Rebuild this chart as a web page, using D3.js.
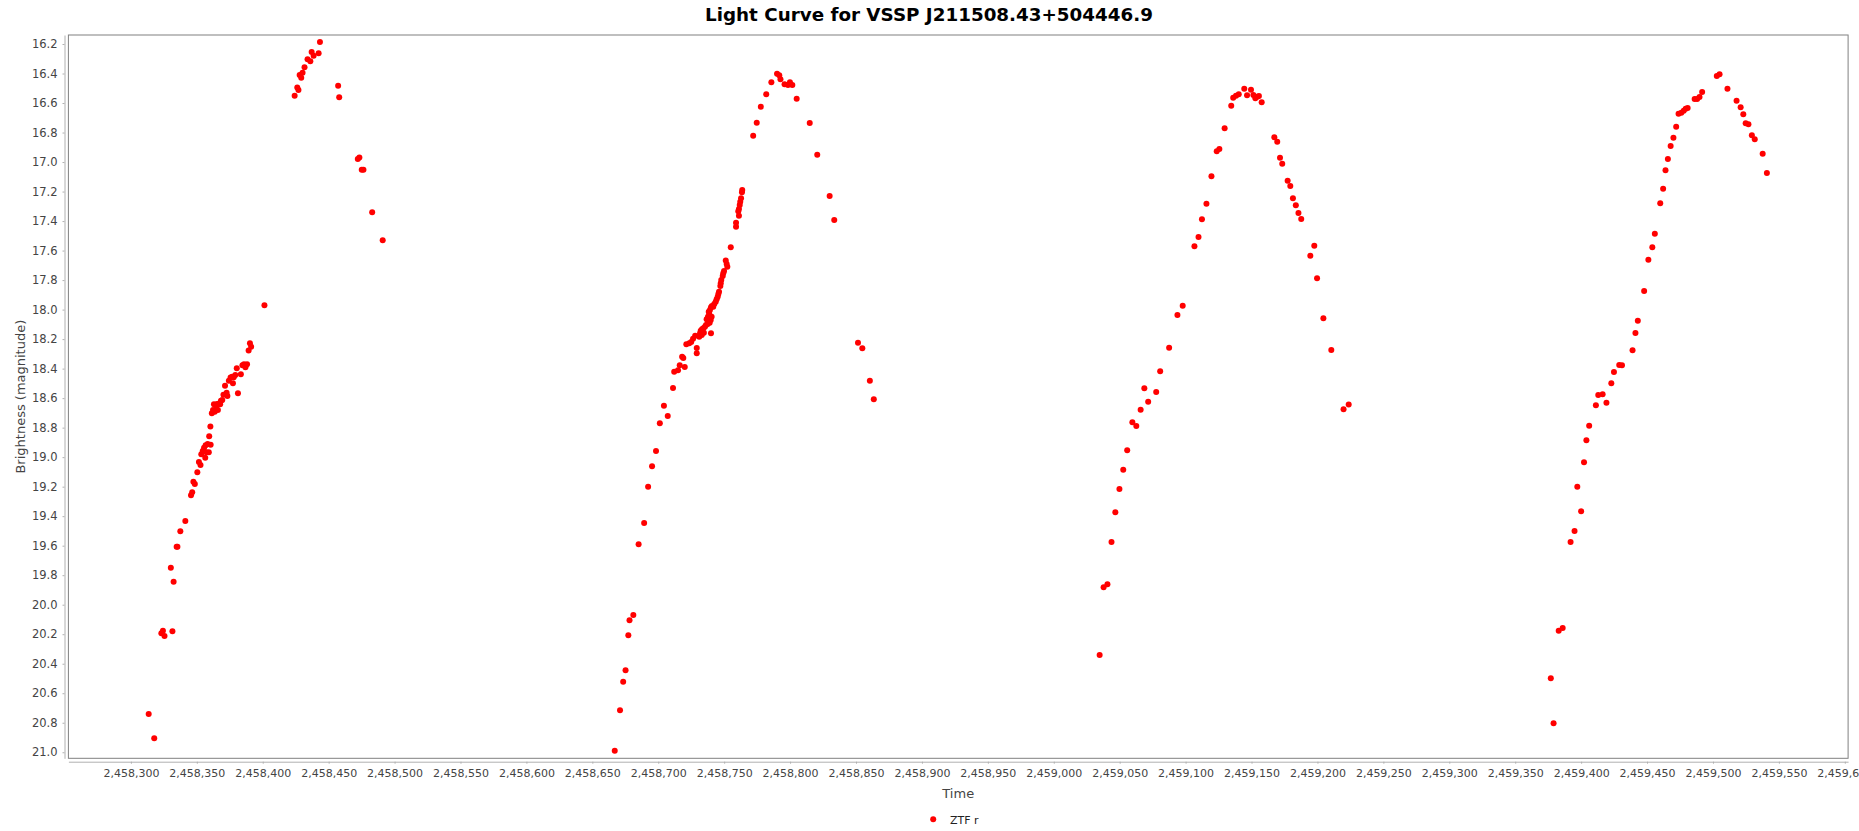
<!DOCTYPE html>
<html><head><meta charset="utf-8">
<script src="https://cdn.jsdelivr.net/npm/d3@7/dist/d3.min.js"></script>
<style>body{margin:0;background:#fff;} svg{display:block;}</style>
</head><body><svg id="c" width="1859" height="831"></svg>
<script>
const chartTitle = "Light Curve for VSSP J211508.43+504446.9";
const xLabel = "Time";
const yLabel = "Brightness (magnitude)";
const seriesName = "ZTF r";
const xTickValues = [2458300,2458350,2458400,2458450,2458500,2458550,2458600,2458650,2458700,2458750,2458800,2458850,2458900,2458950,2459000,2459050,2459100,2459150,2459200,2459250,2459300,2459350,2459400,2459450,2459500,2459550,2459600];
const yTickValues = [16.2,16.4,16.6,16.8,17.0,17.2,17.4,17.6,17.8,18.0,18.2,18.4,18.6,18.8,19.0,19.2,19.4,19.6,19.8,20.0,20.2,20.4,20.6,20.8,21.0];

// Julian dates of observations (ZTF r)
const jd = [
2458313.5,2458317.7,2458323.1,2458324.3,2458325.5,2458331.5,2458330.3,2458332.4,2458334.7,2458335.3,
2458337.5,2458341.3,2458345.6,2458346.5,2458347.4,2458348.5,2458350.4,2458351.6,2458352.8,2458353.4,
2458354.5,2458355.5,2458356.4,2458357.3,2458358.2,2458359.1,2458360.5,2458356.7,2458359.4,2458360.3,
2458361.4,2458362.3,2458363.6,2458364.8,2458366.0,2458363.0,2458365.0,2458366.3,2458367.7,2458368.3,
2458369.3,2458370.2,2458371.4,2458372.6,2458373.2,2458374.3,2458375.6,2458376.8,2458377.4,2458378.0,
2458379.2,2458380.3,2458381.2,2458383.4,2458384.6,2458385.8,2458386.9,2458388.1,2458389.3,2458390.3,
2458391.2,2458401.3,2458424.2,2458426.2,2458427.1,2458428.0,2458429.2,2458430.2,2458431.7,2458434.0,
2458436.1,2458437.1,2458438.6,2458442.4,2458443.4,2458457.2,2458458.0,2458472.1,2458473.3,2458475.1,
2458476.4,2458483.0,2458491.0,
2458667.0,2458671.0,2458673.4,2458675.2,2458677.3,2458678.2,2458681.1,2458685.1,2458689.3,2458692.3,
2458695.3,2458698.3,2458701.2,2458704.3,2458707.2,2458711.2,2458712.1,2458715.0,2458716.3,2458718.1,
2458719.0,2458720.1,2458721.3,2458723.5,2458725.0,2458726.4,2458728.0,2458729.2,2458729.2,2458731.1,
2458731.7,2458732.2,2458733.0,2458733.2,2458734.2,2458734.6,2458735.4,2458736.2,2458736.7,2458737.5,
2458737.7,2458738.3,2458738.7,2458739.0,2458739.2,2458739.8,2458740.0,2458740.0,2458740.5,2458740.7,
2458741.7,2458742.5,2458743.6,2458744.3,2458745.1,2458745.6,2458746.1,2458747.1,2458747.4,2458747.8,
2458748.9,2458749.3,2458749.9,2458751.2,2458751.9,2458752.4,2458755.0,2458759.0,2458759.0,2458760.7,
2458761.2,2458761.2,2458761.8,2458762.2,2458762.8,2458763.5,2458763.7,2458772.0,2458774.7,2458777.8,
2458781.9,2458785.8,2458790.1,2458791.8,2458792.7,2458795.8,2458798.4,2458799.9,2458801.7,2458805.0,
2458814.9,2458820.6,2458830.0,2458833.5,2458851.5,2458854.8,2458860.5,2458863.5,
2459034.8,2459037.8,2459040.7,2459043.8,2459046.7,2459049.8,2459052.7,2459055.7,2459059.6,2459062.6,
2459065.9,2459068.7,2459071.6,2459077.7,2459080.7,2459087.5,2459093.8,2459097.8,2459106.7,2459109.8,
2459112.4,2459115.8,2459119.6,2459123.6,2459125.6,2459129.6,2459134.6,2459136.1,2459138.2,2459140.3,
2459144.5,2459146.6,2459149.6,2459151.4,2459152.9,2459154.4,2459155.6,2459157.7,2459167.3,2459169.5,
2459171.6,2459173.3,2459177.4,2459179.4,2459181.4,2459183.6,2459185.6,2459187.7,2459194.6,2459197.6,
2459199.7,2459204.5,2459210.5,2459219.8,2459223.7,
2459377.0,2459379.1,2459383.0,2459386.0,2459392.0,2459395.0,2459397.1,2459400.0,2459402.2,2459404.0,
2459406.1,2459411.2,2459413.0,2459416.3,2459419.2,2459422.9,2459424.9,2459428.9,2459431.0,2459439.0,
2459441.2,2459443.0,2459447.8,2459451.0,2459454.0,2459455.9,2459460.0,2459462.2,2459464.0,2459465.8,
2459467.9,2459470.0,2459472.1,2459473.9,2459476.0,2459477.8,2459479.3,2459480.8,2459486.1,2459488.0,
2459489.8,2459491.8,2459502.9,2459505.0,2459511.0,2459517.9,2459521.0,2459523.0,2459524.8,2459526.9,
2459529.5,2459531.7,2459537.7,2459540.9
];
// Magnitudes matching jd
const mag = [
20.74,20.905,20.194,20.176,20.212,20.18,19.749,19.844,19.607,19.607,
19.502,19.433,19.259,19.238,19.166,19.182,19.103,19.033,19.053,18.981,
18.958,18.936,19.004,18.967,18.911,18.967,18.916,18.92,18.859,18.793,
18.703,18.68,18.692,18.672,18.68,18.642,18.642,18.638,18.642,18.617,
18.613,18.577,18.516,18.563,18.585,18.482,18.461,18.455,18.499,18.459,
18.443,18.398,18.567,18.438,18.378,18.371,18.391,18.371,18.278,18.228,
18.251,17.971,16.55,16.494,16.512,16.41,16.428,16.394,16.358,16.304,
16.317,16.254,16.279,16.263,16.186,16.483,16.561,16.979,16.97,17.052,
17.052,17.341,17.53,
20.989,20.715,20.522,20.444,20.207,20.106,20.07,19.591,19.446,19.2,
19.062,18.958,18.77,18.651,18.721,18.531,18.421,18.411,18.378,18.319,
18.328,18.389,18.235,18.228,18.22,18.197,18.177,18.26,18.296,18.184,
18.161,18.143,18.172,18.134,18.127,18.157,18.116,18.104,18.066,18.098,
18.048,18.014,18.03,18.089,18.003,18.07,17.984,18.161,18.048,17.976,
17.98,17.962,17.946,17.93,17.913,17.894,17.879,17.84,17.822,17.799,
17.772,17.754,17.738,17.668,17.691,17.709,17.578,17.411,17.438,17.334,
17.318,17.364,17.291,17.269,17.246,17.205,17.189,16.821,16.733,16.625,
16.541,16.46,16.401,16.412,16.439,16.473,16.478,16.46,16.478,16.571,
16.735,16.95,17.23,17.393,18.224,18.262,18.482,18.608,
20.341,19.882,19.862,19.575,19.374,19.216,19.085,18.954,18.764,18.789,
18.678,18.533,18.624,18.558,18.418,18.258,18.037,17.974,17.571,17.508,
17.388,17.282,17.097,16.927,16.912,16.771,16.618,16.564,16.55,16.541,
16.503,16.548,16.51,16.546,16.568,16.557,16.552,16.595,16.832,16.862,
16.971,17.011,17.126,17.162,17.246,17.293,17.345,17.386,17.635,17.567,
17.788,18.059,18.274,18.676,18.644,
20.499,20.804,20.176,20.158,19.575,19.5,19.2,19.367,19.035,18.886,
18.787,18.649,18.579,18.574,18.631,18.499,18.423,18.375,18.377,18.276,
18.159,18.075,17.874,17.662,17.578,17.486,17.28,17.181,17.056,16.979,
16.891,16.835,16.76,16.672,16.666,16.652,16.638,16.634,16.573,16.573,
16.559,16.525,16.417,16.405,16.503,16.584,16.629,16.676,16.737,16.744,
16.819,16.846,16.943,17.074
];

const svg = d3.select("#c");
const W = 1859, H = 831;
const plot = {left: 68.4, top: 35, right: 1848.1, bottom: 758.3};
const FONT = "'DejaVu Sans', sans-serif";

svg.append("rect").attr("width", W).attr("height", H).attr("fill", "#fff");

const x = d3.scaleLinear().domain([2458252.6, 2459602.5]).range([plot.left, plot.right]);
const y = d3.scaleLinear().domain([16.139, 21.041]).range([plot.top, plot.bottom]);

// title
svg.append("text").attr("x", 929).attr("y", 20.5).attr("text-anchor", "middle")
  .attr("font-family", FONT).attr("font-weight", "bold").attr("font-size", 18.5)
  .attr("textLength", 448).attr("lengthAdjust", "spacingAndGlyphs")
  .attr("fill", "#000").text(chartTitle);

// plot frame
svg.append("rect").attr("x", plot.left).attr("y", plot.top)
  .attr("width", plot.right - plot.left).attr("height", plot.bottom - plot.top)
  .attr("fill", "#fff").attr("stroke", "#808080").attr("stroke-width", 1);

// x axis
const xAxisY = 761.7;
const gx = svg.append("g").attr("transform", `translate(0,${xAxisY})`)
  .call(d3.axisBottom(x).tickValues(xTickValues).tickFormat(d3.format(",")).tickSize(2).tickSizeOuter(0).tickPadding(6));
gx.select(".domain").attr("stroke", "#b0b0b0");
gx.selectAll(".tick line").attr("stroke", "#b0b0b0");
gx.selectAll("text").attr("font-family", FONT).attr("font-size", 11).attr("fill", "#444");

// y axis
const yAxisX = 64.5;
const gy = svg.append("g").attr("transform", `translate(${yAxisX},0)`)
  .call(d3.axisLeft(y).tickValues(yTickValues).tickFormat(d3.format(".1f")).tickSize(2).tickSizeOuter(0).tickPadding(5));
gy.select(".domain").attr("stroke", "#b0b0b0");
gy.selectAll(".tick line").attr("stroke", "#b0b0b0");
gy.selectAll("text").attr("font-family", FONT).attr("font-size", 11.5).attr("fill", "#444");

// axis titles
svg.append("text").attr("x", (plot.left + plot.right) / 2).attr("y", 798)
  .attr("text-anchor", "middle").attr("font-family", FONT).attr("font-size", 13)
  .attr("fill", "#444").text(xLabel);
svg.append("text").attr("transform", `translate(24.5,${(plot.top + plot.bottom) / 2}) rotate(-90)`)
  .attr("text-anchor", "middle").attr("font-family", FONT).attr("font-size", 13)
  .attr("fill", "#444").text(yLabel);

// points
const pts = jd.map((t, i) => ({t, m: mag[i]}));
svg.append("g").selectAll("circle").data(pts).join("circle")
  .attr("cx", d => x(d.t)).attr("cy", d => y(d.m)).attr("r", 3).attr("fill", "#ff0000");

// legend
svg.append("circle").attr("cx", 933.2).attr("cy", 819.3).attr("r", 3).attr("fill", "#ff0000");
svg.append("text").attr("x", 950).attr("y", 823.5).attr("font-family", FONT).attr("font-size", 11)
  .attr("fill", "#222").text(seriesName);
</script>
</body></html>
